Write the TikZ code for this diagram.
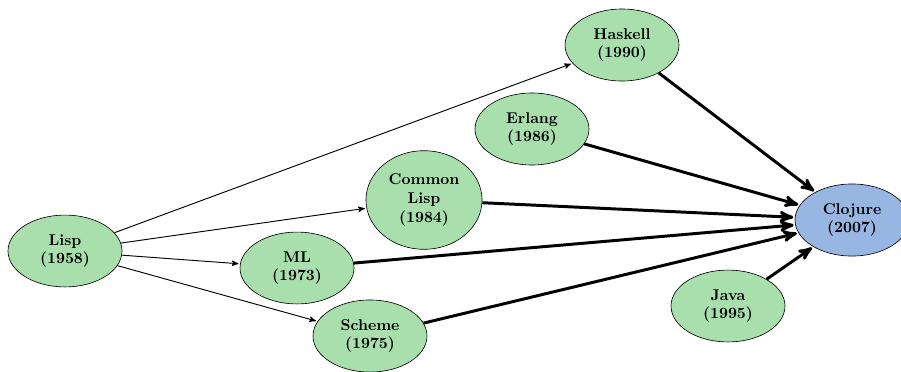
\documentclass[tikz,border=0pt]{standalone}
\usepackage{amsmath}
\usepackage{tikz}
\usetikzlibrary{shapes,backgrounds}
\usetikzlibrary{arrows}

\definecolor{langgreen}{RGB}{169,223,173}
\definecolor{langblue}{RGB}{151,183,226}

\begin{document}
\begin{tikzpicture}[->,>=stealth',shorten >=1pt,auto,
                    x=0.0225cm,y=-0.0225cm,semithick,
                    lang/.style={ellipse,draw,thin,fill=langgreen,align=center,
                                 font=\bfseries,minimum width=73pt,
                                 inner xsep=3.6pt,inner ysep=5.6pt},
                    target/.style={lang,fill=langblue},
                    heavy/.style={line width=1.9pt}]

  \useasboundingbox (0,0) rectangle (901,371);

  \node[lang]    (Lisp)    at (65,251)  {Lisp\\(1958)};
  \node[lang]    (ML)      at (297,268) {ML\\(1973)};
  \node[lang]    (Scheme)  at (370,336) {Scheme\\(1975)};
  \node[lang,minimum width=0pt] (CL) at (424,200) {Common\\Lisp\\(1984)};
  \node[lang]    (Erlang)  at (532,129) {Erlang\\(1986)};
  \node[lang]    (Haskell) at (622,45)  {Haskell\\(1990)};
  \node[lang]    (Java)    at (728,306) {Java\\(1995)};
  \node[target]  (Clojure) at (852,220) {Clojure\\(2007)};

  \path (Lisp) edge (Haskell)
               edge (CL)
               edge (ML)
               edge (Scheme);

  \path (Haskell) edge [heavy] (Clojure)
        (Erlang)  edge [heavy] (Clojure)
        (CL)      edge [heavy] (Clojure)
        (ML)      edge [heavy] (Clojure)
        (Scheme)  edge [heavy] (Clojure)
        (Java)    edge [heavy] (Clojure);
\end{tikzpicture}
\end{document}
